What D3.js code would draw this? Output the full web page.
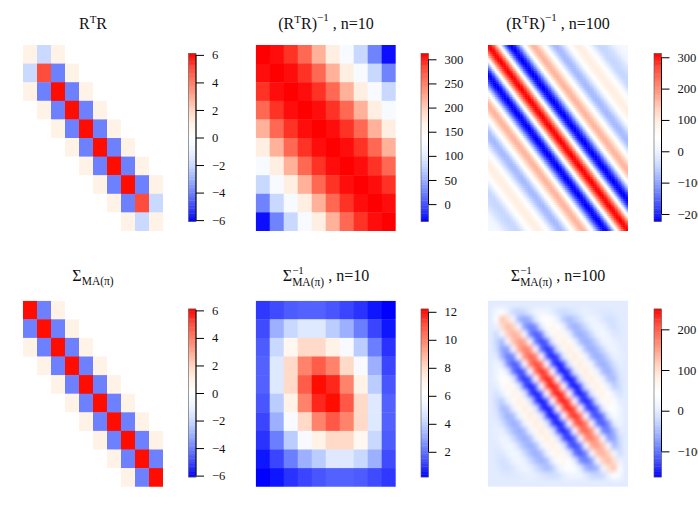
<!DOCTYPE html>
<html><head><meta charset="utf-8">
<script src="https://cdn.jsdelivr.net/npm/d3@7"></script>
<style>
html,body{margin:0;padding:0;background:#fff;overflow:hidden}
text{font-family:"Liberation Serif","Times New Roman",serif;fill:#111}
</style></head><body>
<svg id="c" width="698" height="510"></svg>
<script>
// ---------- data ----------
const rtrMatrix = [
 [1,-2,1,0,0,0,0,0,0,0],
 [-2,5,-4,1,0,0,0,0,0,0],
 [1,-4,6,-4,1,0,0,0,0,0],
 [0,1,-4,6,-4,1,0,0,0,0],
 [0,0,1,-4,6,-4,1,0,0,0],
 [0,0,0,1,-4,6,-4,1,0,0],
 [0,0,0,0,1,-4,6,-4,1,0],
 [0,0,0,0,0,1,-4,6,-4,1],
 [0,0,0,0,0,0,1,-4,5,-2],
 [0,0,0,0,0,0,0,1,-2,1]];
const sigmaMatrix = [
 [6,-4,1,0,0,0,0,0,0,0],
 [-4,6,-4,1,0,0,0,0,0,0],
 [1,-4,6,-4,1,0,0,0,0,0],
 [0,1,-4,6,-4,1,0,0,0,0],
 [0,0,1,-4,6,-4,1,0,0,0],
 [0,0,0,1,-4,6,-4,1,0,0],
 [0,0,0,0,1,-4,6,-4,1,0],
 [0,0,0,0,0,1,-4,6,-4,1],
 [0,0,0,0,0,0,1,-4,6,-4],
 [0,0,0,0,0,0,0,1,-4,6]];
// first row of each Toeplitz-looking matrix (value by distance from the diagonal)
const rtrInv10Row = [312,306,292,265,218,170,125,80,25,-32];
const rtrInv100Row = [312,307,292,267,234,193,146,97,44,-9,-58,-105,-146,-179,-204,-219,-224,
 -220,-209,-191,-167,-138,-104,-68,-30,9,45,79,108,132,150,161,165,
 163,156,144,129,111,89,67,43,18,-4,-26,-44,-59,-71,-78,-80,
 -78,-73,-65,-54,-41,-26,-10,8,25,41,56,69,80,88,93,95,
 94,90,83,74,63,51,38,24,9,-4,-16,-27,-36,-43,-47,-48,
 -47,-46,-43,-39,-34,-29,-23,-17,-10,-4,1,6,10,13,14,15,15,15,15];
const sigmaInv10 = [
 [1.0,1.3,1.6,1.7,1.7,1.5,1.2,0.9,0.5,0.2],
 [1.3,3.2,4.2,4.8,4.8,3.9,3.2,2.2,1.2,0.5],
 [1.6,4.2,6.8,8.0,8.0,7.2,5.8,3.9,2.2,0.9],
 [1.7,4.8,8.0,10.0,10.8,10.0,8.0,5.8,3.2,1.2],
 [1.7,4.8,8.0,10.8,12.1,11.7,10.0,7.2,3.9,1.5],
 [1.5,3.9,7.2,10.0,11.7,12.1,10.9,8.0,4.8,1.7],
 [1.2,3.2,5.8,8.0,10.0,10.9,10.0,8.0,4.8,1.7],
 [0.9,2.2,3.9,5.8,7.2,8.0,8.0,6.8,4.2,1.6],
 [0.5,1.2,2.2,3.2,3.9,4.8,4.8,4.2,3.2,1.3],
 [0.2,0.5,0.9,1.2,1.5,1.7,1.7,1.6,1.3,1.0]];
// upper diagonals of the n=100 Sigma inverse, sampled on a 25 x 25 grid: [offset][position]
const sigmaInv100Diagonals = [
 [0,25,125,135,140,156,180,200,218,232,242,250,250,250,242,232,218,200,180,156,140,135,125,25,0],
 [0,40,100,115,125,145,164,180,193,203,212,215,215,212,203,193,180,164,145,125,115,100,40,0],
 [0,7,19,23,28,32,36,39,42,43,45,45,45,43,42,39,36,32,28,23,19,7,0],
 [0,-22,-53,-72,-88,-99,-108,-118,-123,-129,-130,-130,-129,-123,-118,-108,-99,-88,-72,-53,-22,0],
 [0,-27,-67,-96,-118,-130,-142,-151,-158,-163,-163,-163,-158,-151,-142,-130,-118,-96,-67,-27,0],
 [0,-22,-57,-83,-99,-109,-117,-124,-129,-130,-130,-129,-124,-117,-109,-99,-83,-57,-22,0],
 [0,-2,-3,-4,-4,-5,-5,-5,-5,-5,-5,-5,-5,-5,-4,-4,-3,-2,0],
 [0,12,34,47,55,60,62,65,65,65,65,62,60,55,47,34,12,0],
 [0,16,46,65,74,79,82,85,85,85,82,79,74,65,46,16,0],
 [0,12,35,48,55,57,60,60,60,60,57,55,48,35,12,0],
 [0,2,5,7,8,9,10,10,10,9,8,7,5,2,0],
 [0,-14,-35,-45,-48,-48,-48,-48,-48,-48,-45,-35,-14,0],
 [0,-20,-50,-60,-62,-62,-62,-62,-62,-60,-50,-20,0],
 [0,-14,-35,-45,-48,-48,-48,-48,-45,-35,-14,0],
 [0,-6,-15,-20,-22,-22,-22,-20,-15,-6,0],
 [0,2,6,8,10,10,8,6,2,0],
 [0,5,13,18,20,18,13,5,0],
 [0,2,7,9,9,7,2,0],
 [0,-2,-6,-8,-6,-2,0],
 [0,-5,-15,-15,-5,0],
 [0,-6,-12,-6,0],
 [0,-3,-3,0],
 [0,-1,0],
 [0,0],
 [0]];
const rampStops = [0,.083,.167,.25,.333,.42,.5,.583,.667,.75,.833,.917,1];
const rampColors = ["#0000ff","#3a45ff","#6a7eff","#9cb0ff","#c8d8ff","#eef4ff","#ffffff","#fff2e6","#ffd4c0","#ffa68e","#ff7a62","#ff4a3a","#ff0000"];
const ticksA = [-6,-4,-2,0,2,4,6];
const ticksB = [0,50,100,150,200,250,300];
const ticksC = [-200,-100,0,100,200,300];
const ticksE = [2,4,6,8,10,12];
const ticksF = [-100,0,100,200];
const domA = [-6.1,6.1], domB = [-36,312], domC = [-224,312], domE = [0.2,12.2], domF = [-163,250];

// ---------- layout ----------
const colX = [23,255.7,488], rowY = [45,300.7], imgW = 140, imgH = 186;
const barX = [188.5,421,654], barW = 7.5, barTop = [53.5,309], barH = 168;
const svg = d3.select("#c");
const defs = svg.append("defs");
const ramp = d3.scaleLinear().domain(rampStops).range(rampColors).clamp(true);

function full(f,n){return d3.range(n).map(i=>d3.range(n).map(j=>f(i,j)));}
const fromRow = r => full((i,j)=>r[Math.abs(i-j)], r.length);
const fromDiags = dg => full((i,j)=>dg[Math.abs(i-j)][Math.min(i,j)], dg.length);

function blurFilter(id,s,x,y){
  defs.append("filter").attr("id",id).attr("filterUnits","userSpaceOnUse")
    .attr("x",x-20).attr("y",y-20).attr("width",imgW+40).attr("height",imgH+40)
    .append("feGaussianBlur").attr("stdDeviation",s);
}
function panel(k,c,r,m,dom,ticks,blur,edge){
  const x0=colX[c], y0=rowY[r], n=m.length;
  const tNorm=d3.scaleLinear().domain(dom).range([0,1]);
  const fill=v=>ramp(tNorm(v));
  const x=d3.scaleBand().domain(d3.range(n)).range([x0,x0+imgW]);
  const y=d3.scaleBand().domain(d3.range(n)).range([y0,y0+imgH]);
  const cid="clip"+k, fid="blur"+k;
  defs.append("clipPath").attr("id",cid).append("rect").attr("x",x0).attr("y",y0).attr("width",imgW).attr("height",imgH);
  blurFilter(fid,blur,x0,y0);
  const g=svg.append("g").attr("clip-path",`url(#${cid})`).append("g").attr("filter",`url(#${fid})`);
  g.append("rect").attr("x",x0-20).attr("y",y0-20).attr("width",imgW+40).attr("height",imgH+40).attr("fill",fill(edge));
  const cells=[]; m.forEach((row,i)=>row.forEach((v,j)=>cells.push({i,j,v})));
  g.selectAll("rect.cell").data(cells).join("rect").attr("class","cell")
    .attr("x",d=>x(d.j)).attr("y",d=>y(d.i))
    .attr("width",x.bandwidth()+.4).attr("height",y.bandwidth()+.4)
    .attr("fill",d=>fill(d.v));
  // colour bar
  const by=d3.scaleLinear().domain(dom).range([barTop[r]+barH,barTop[r]]);
  const bx=barX[c];
  const steps=d3.range(64).map(i=>dom[0]+(dom[1]-dom[0])*(i+.5)/64);
  const stepH=barH/64;
  svg.append("g").selectAll("rect").data(steps).join("rect")
    .attr("x",bx).attr("width",barW).attr("y",d=>by(d)-stepH/2-.2).attr("height",stepH+.4)
    .attr("fill",fill);
  svg.append("rect").attr("x",bx).attr("y",barTop[r]).attr("width",barW).attr("height",barH)
    .attr("fill","none").attr("stroke","#555").attr("stroke-width",.6);
  const ax=d3.axisRight(by).tickValues(ticks).tickSize(8).tickPadding(8)
    .tickFormat(d=>String(d).replace("-","\u2212"));
  const ag=svg.append("g").attr("transform",`translate(${bx+barW},0)`).call(ax);
  ag.select(".domain").remove();
  ag.selectAll("line").attr("stroke","#000").attr("stroke-width",1);
  ag.selectAll("text").style("font-size","12.6px");
  ag.append("line").attr("y1",by(ticks[0])).attr("y2",by(ticks[ticks.length-1])).attr("stroke","#000").attr("stroke-width",1);
}
panel(1,0,0,rtrMatrix,domA,ticksA,.35,0);
panel(2,1,0,fromRow(rtrInv10Row),domB,ticksB,.35,140);
panel(3,2,0,fromRow(rtrInv100Row),domC,ticksC,.7,44);
panel(4,0,1,sigmaMatrix,domA,ticksA,.35,0);
panel(5,1,1,sigmaInv10,domE,ticksE,.35,6);
panel(6,2,1,fromDiags(sigmaInv100Diagonals),domF,ticksF,2.2,0);

// ---------- titles ----------
function title(xCenter,base,runs){
  const g=svg.append("g");
  let x=0;
  runs.forEach(r=>{
    if(r.stack){
      let w=0;
      r.stack.forEach(s=>{
        const t=g.append("text").attr("x",x).attr("y",base+s.dy).style("font-size",s.size+"px").text(s.t);
        w=Math.max(w,t.node().getComputedTextLength());
      });
      x+=w;
    } else {
      const t=g.append("text").attr("x",x).attr("y",base+(r.dy||0)).style("font-size",(r.size||16)+"px").text(r.t);
      x+=t.node().getComputedTextLength();
    }
  });
  g.attr("transform",`translate(${xCenter-x/2},0)`);
}
const rtr=[{t:"R"},{t:"T",dy:-6,size:11},{t:"R"}];
const invPow={t:"\u22121",dy:-8,size:11};
title(93,29,rtr);
title(326,29,[{t:"("},...rtr,{t:")"},invPow,{t:"\u00a0, n=10"}]);
title(558,29,[{t:"("},...rtr,{t:")"},invPow,{t:"\u00a0, n=100"}]);
title(93,281,[{t:"\u03a3"},{t:"MA(\u03c0)",dy:3.5,size:11.5}]);
const sigInv=[{t:"\u03a3"},{stack:[{t:"\u22121",dy:-6.5,size:11},{t:"MA(\u03c0)",dy:5,size:11.5}]}];
title(326,280.5,[...sigInv,{t:"\u00a0, n=10"}]);
title(558,280.5,[...sigInv,{t:"\u00a0, n=100"}]);
</script></body></html>
